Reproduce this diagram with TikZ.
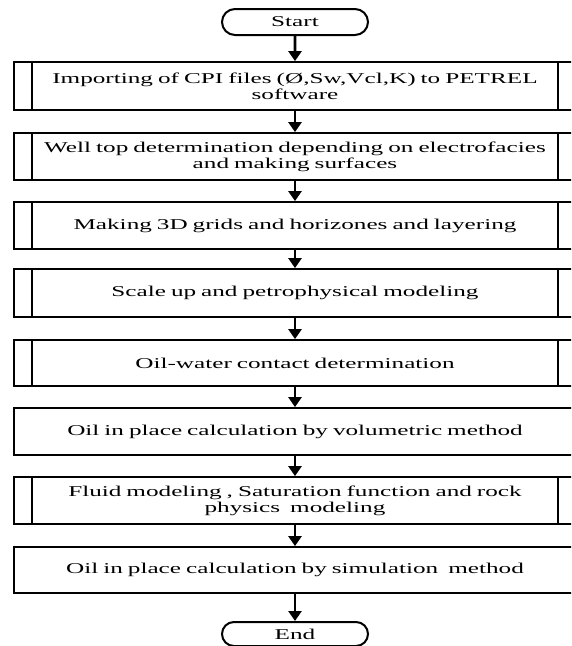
\documentclass[tikz,border=0pt]{standalone}
\usepackage{fontspec}
\setmainfont[FakeStretch=1.68]{Liberation Serif}
\usetikzlibrary{arrows.meta,shapes.misc}

\begin{document}
\begin{tikzpicture}[x=1pt, y=-1pt,
		term/.style = {rounded rectangle, draw, line width=2, minimum width=146, minimum height=26, inner sep=0, font=\fontsize{15}{16}\selectfont},
		box/.style = {rectangle, draw, line width=1.8, minimum width=562, minimum height=47, text width=520, align=center, inner sep=0, font=\fontsize{15}{16}\selectfont},
		proc/.style = {box, path picture={\draw[line width=2.8] ([xshift=18]path picture bounding box.north west) -- ([xshift=18]path picture bounding box.south west) ([xshift=-18]path picture bounding box.north east) -- ([xshift=-18]path picture bounding box.south east);}},
		arr/.style = {line width=2.8, -{Triangle[length=10, width=13]}}]
			\useasboundingbox (0,0) rectangle (571,646);
			\clip (0,0) rectangle (571,646);
			\node (s) at (295,22) [term] {Start};
			\node (a) at (295,86) [proc, minimum height=48] {Importing of CPI files (Ø,Sw,Vcl,K) to PETREL\\ software};
			\node (b) at (295,156.5) [proc] {Well top determination depending on electrofacies\\ and making surfaces};
			\node (c) at (295,225.5) [proc] {Making 3D grids and horizones and layering};
			\node (d) at (295,293) [proc, minimum height=48] {Scale up and petrophysical modeling};
			\node (e) at (295,363) [proc, minimum height=46] {Oil-water contact determination};
			\node (f) at (295,431.5) [box] {Oil in place calculation by volumetric method};
			\node (g) at (295,500.5) [proc] {Fluid modeling , Saturation function and rock\\ physics~ modeling};
			\node (h) at (295,570) [box, minimum height=46] {Oil in place calculation by simulation~ method};
			\node (t) at (295,634) [term, minimum height=24] {End};
			\draw (s) edge[arr] (a);
			\draw (a) edge[arr] (b);
			\draw (b) edge[arr] (c);
			\draw (c) edge[arr] (d);
			\draw (d) edge[arr] (e);
			\draw (e) edge[arr] (f);
			\draw (f) edge[arr] (g);
			\draw (g) edge[arr] (h);
			\draw (h) edge[arr] (t);
\end{tikzpicture}
\end{document}
